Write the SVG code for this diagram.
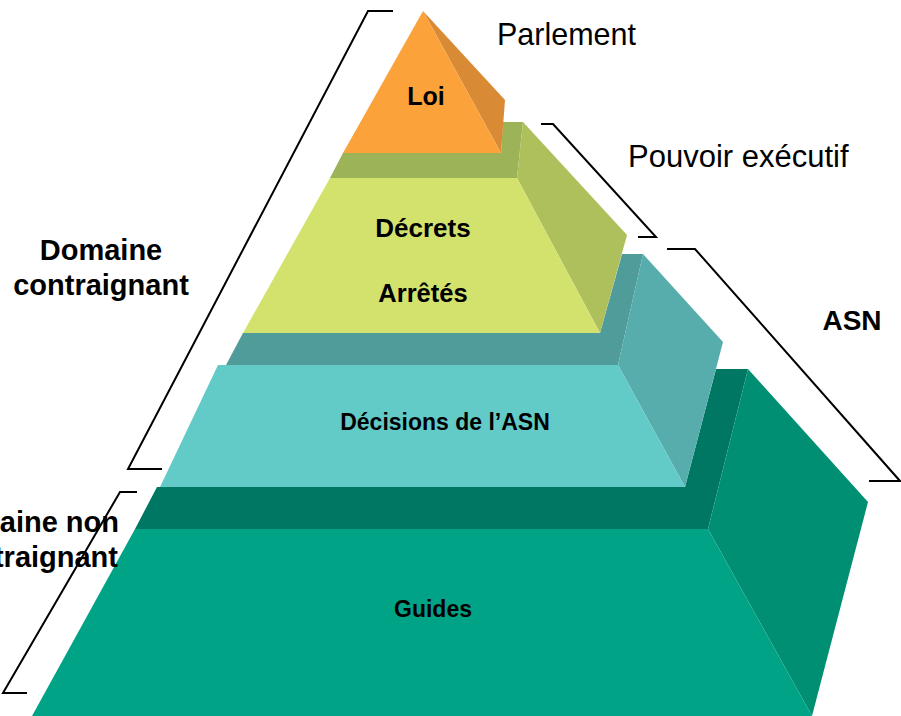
<svg xmlns="http://www.w3.org/2000/svg" width="901" height="716" viewBox="0 0 901 716">
<style>
.b{font-family:"Liberation Sans",Arial,sans-serif;font-weight:bold;fill:#000}
.n{font-family:"Liberation Sans",Arial,sans-serif;fill:#000}
.br{fill:none;stroke:#000;stroke-width:2}
</style>
<rect width="901" height="716" fill="#fff"/>
<g id="guides">
<polygon points="135,529 157,487 685,487 716,369 748,369 708,529" fill="#007763"/>
<polygon points="708,529 748,369 868,502 812,716" fill="#008F72"/>
<polygon points="135,529 708,529 812,716 32,716" fill="#00A385"/>
<text class="b" x="433" y="617" font-size="23" text-anchor="middle">Guides</text>
</g>
<g id="decisions">
<polygon points="226,365 243,333 600,333 622,254 643,254 618,365" fill="#4F9C9A"/>
<polygon points="618,365 643,254 723,342 685,487" fill="#56ADAC"/>
<polygon points="218,365 618,365 685,487 160,487" fill="#62CBC8"/>
<text class="b" x="445" y="430" font-size="23" text-anchor="middle">Décisions de l’ASN</text>
</g>
<g id="decrets">
<polygon points="330,178 343,153 501,153 503,122 523,122 517,178" fill="#9DB358"/>
<polygon points="517,178 523,122 627,235 600,333" fill="#AEC05B"/>
<polygon points="330,178 517,178 600,333 243,333" fill="#D2E26C"/>
<text class="b" x="423" y="237" font-size="26" text-anchor="middle">Décrets</text>
<text class="b" x="423" y="302" font-size="25.5" text-anchor="middle">Arrêtés</text>
</g>
<g id="loi">
<polygon points="423,11 505,100 501,153" fill="#D98A34"/>
<polygon points="423,11 501,153 343,153" fill="#FBA23A"/>
<text class="b" x="426" y="105" font-size="25" text-anchor="middle">Loi</text>
</g>
<g id="connectors">
<polyline class="br" points="393,11 368,11 128,469 162,469"/>
<polyline class="br" points="137,492 120,492 3,693 27,693"/>
<polyline class="br" points="541,124 553,124 656,237 638,237"/>
<polyline class="br" points="667,249 695,249 900,481 869,481"/>
</g>
<g id="labels">
<text class="n" x="497" y="45" font-size="30.5">Parlement</text>
<text class="n" x="628" y="167" font-size="31">Pouvoir exécutif</text>
<text class="b" x="101" y="260" font-size="29" text-anchor="middle">Domaine</text>
<text class="b" x="101" y="295" font-size="29" text-anchor="middle">contraignant</text>
<text class="b" x="852" y="330" font-size="28" text-anchor="middle">ASN</text>
<text class="b" x="119" y="532" font-size="29" text-anchor="end">Domaine non</text>
<text class="b" x="118" y="567" font-size="29" text-anchor="end">contraignant</text>
</g>
</svg>
